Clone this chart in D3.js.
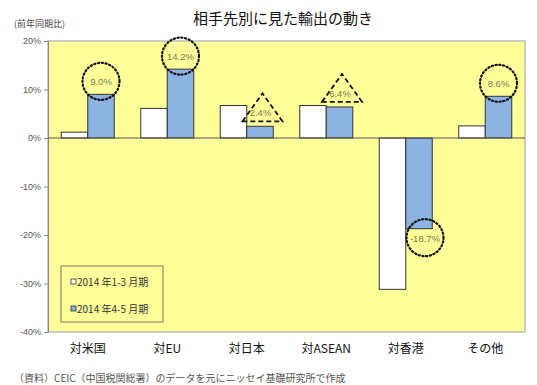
<!DOCTYPE html>
<html><head><meta charset="utf-8">
<script src="https://cdn.jsdelivr.net/npm/d3@7"></script>
<style>body{margin:0;background:#fff;font-family:"Noto Sans CJK JP",sans-serif;}</style>
</head><body><svg id="c" width="537" height="385"></svg>
<script>
const categories = ["対米国","対EU","対日本","対ASEAN","対香港","その他"];
const seriesNames = ["2014 年1-3 月期","2014 年4-5 月期"];
const q1Values = [1.2, 6.1, 6.7, 6.7, -31.2, 2.5];
const q2Values = [9.0, 14.2, 2.4, 6.4, -18.7, 8.6];
const yTicks = [20,10,0,-10,-20,-30,-40];
const markShapes = ["circle","circle","triangle","triangle","circle","circle"];

const svg = d3.select("#c");
const L=48, R=525, T=41, B=332;
const x = d3.scaleBand().domain(categories).range([L,R]).paddingInner(1/3).paddingOuter(1/6);
const x1 = d3.scaleBand().domain([0,1]).range([0,x.bandwidth()]);
const y = d3.scaleLinear().domain([-40,20]).range([B,T]);

svg.append("rect").attr("x",L).attr("y",T).attr("width",R-L).attr("height",B-T)
  .attr("fill","#ffff99").attr("stroke","#bdbdbd").attr("stroke-width",1.5);

// y axis
const ya = svg.append("g").attr("transform",`translate(${L},0)`)
  .call(d3.axisLeft(y).tickValues(yTicks).tickSize(4).tickFormat(d=>d+"%"));
ya.select(".domain").attr("stroke","#888");
ya.selectAll(".tick line").attr("stroke","#888");
ya.selectAll("text").attr("font-size",9).attr("fill","#555").attr("font-family","Liberation Sans, Arial, sans-serif");

const series = [q1Values,q2Values];
const colors = ["#ffffff","#8db3e2"];
series.forEach((vals,si)=>{
  svg.append("g").selectAll("rect").data(vals).join("rect")
    .attr("x",(d,i)=>x(categories[i])+x1(si))
    .attr("width",x1.bandwidth())
    .attr("y",d=>y(Math.max(0,d)))
    .attr("height",d=>Math.abs(y(d)-y(0)))
    .attr("fill",colors[si]).attr("stroke","#333").attr("stroke-width",1);
});
// zero line
svg.append("line").attr("x1",L).attr("x2",R).attr("y1",y(0)).attr("y2",y(0)).attr("stroke","#555").attr("stroke-width",1);

// annotations
q2Values.forEach((v,i)=>{
  const bx = x(categories[i])+x1(1)+x1.bandwidth()/2;
  const g = svg.append("g");
  if(markShapes[i]==="circle"){
    const cx = v>=0 ? bx : bx+6;
    const cy = v>=0 ? y(v)-13 : y(v)+9;
    g.append("circle").attr("cx",cx).attr("cy",cy).attr("r",18.5)
      .attr("fill","none").attr("stroke","#111").attr("stroke-width",2.2).attr("stroke-dasharray","1.2,2.6").attr("stroke-linecap","round");
    g.append("text").attr("x",cx).attr("y",cy+4).attr("text-anchor","middle")
      .attr("font-size",9.5).attr("fill","#7a7a50").attr("font-family","Liberation Sans, Arial, sans-serif").text(v.toFixed(1)+"%");
  } else {
    const cx = bx+2.5;
    const by = y(v)-5, ay = by-28, hw=20;
    g.append("path").attr("d",`M${cx-hw},${by}L${cx},${ay}L${cx+hw},${by}Z`)
      .attr("fill","none").attr("stroke","#111").attr("stroke-width",1.8).attr("stroke-dasharray","5,3");
    g.append("text").attr("x",cx-2).attr("y",by-5).attr("text-anchor","middle")
      .attr("font-size",9.5).attr("fill","#7a7a50").attr("font-family","Liberation Sans, Arial, sans-serif").text(v.toFixed(1)+"%");
  }
});

// x labels
svg.append("g").selectAll("text").data(categories).join("text")
  .attr("x",d=>x(d)+x.bandwidth()/2).attr("y",353).attr("text-anchor","middle")
  .attr("font-size",12).attr("fill","#111").text(d=>d);

// legend
const lg = svg.append("g");
lg.append("rect").attr("x",61).attr("y",266).attr("width",102).attr("height",56)
  .attr("fill","#ffff99").attr("stroke","#555").attr("stroke-width",0.8);
seriesNames.forEach((n,i)=>{
  const yy = 282+i*27;
  lg.append("rect").attr("x",71).attr("y",yy-3).attr("width",5).attr("height",5)
    .attr("fill",colors[i]).attr("stroke","#333").attr("stroke-width",0.8);
  lg.append("text").attr("x",77).attr("y",yy+3.5).attr("font-size",10).attr("fill","#333").text(n);
});

// title & notes
svg.append("text").attr("x",283).attr("y",24).attr("text-anchor","middle").attr("font-size",15).attr("fill","#111").text("相手先別に見た輸出の動き");
svg.append("text").attr("x",14).attr("y",27).attr("font-size",9).attr("fill","#444").text("(前年同期比)");
svg.append("text").attr("x",14).attr("y",382).attr("font-size",10).attr("fill","#555").text("（資料）CEIC（中国税関総署）のデータを元にニッセイ基礎研究所で作成");
</script></body></html>
